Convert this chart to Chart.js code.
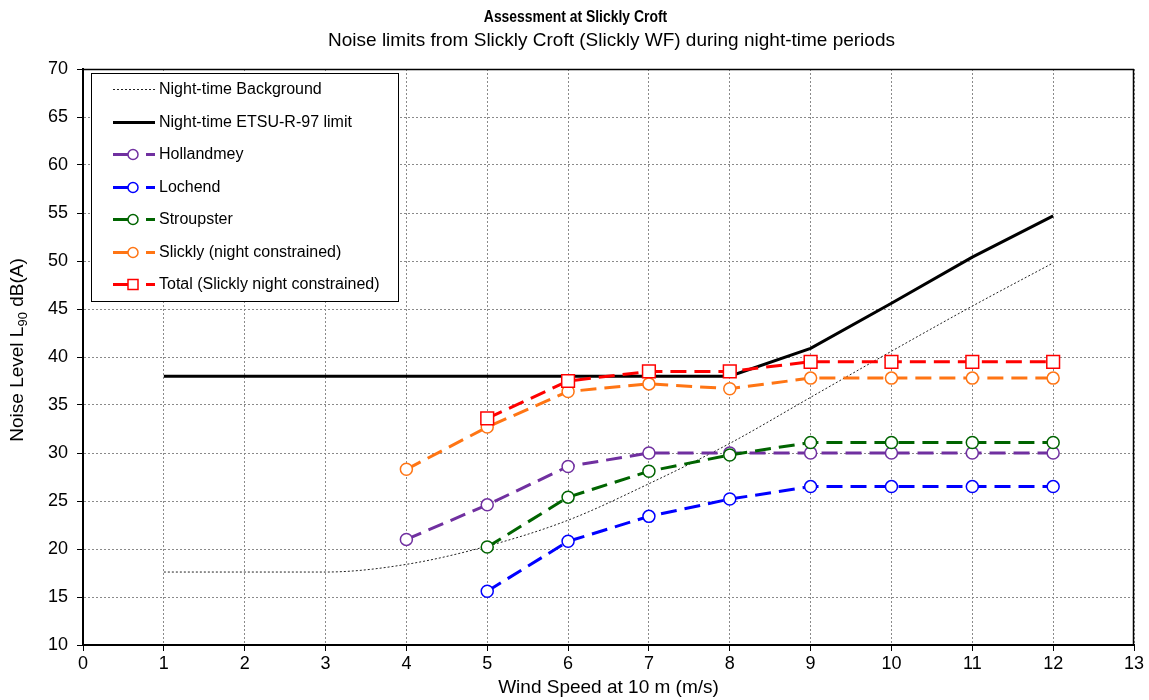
<!DOCTYPE html>
<html>
<head>
<meta charset="utf-8">
<script src="https://cdn.jsdelivr.net/npm/chart.js@4.4.0/dist/chart.umd.min.js"></script>
<style>
  html, body { margin: 0; padding: 0; background: #ffffff; }
  #wrap { width: 1149px; height: 700px; }
</style>
</head>
<body>
<div id="wrap"><canvas id="c" width="1149" height="700"></canvas></div>
<script>
// Wind speed at 10 m (m/s)
const windSpeed = [1, 2, 3, 4, 5, 6, 7, 8, 9, 10, 11, 12];

// Noise levels, L90 dB(A)
const nightBackground = [17.6, 17.6, 17.6, 18.4, 20.3, 23.0, 26.8, 31.0, 35.8, 40.6, 45.3, 49.8];
const nightLimit      = [38.0, 38.0, 38.0, 38.0, 38.0, 38.0, 38.0, 38.0, 40.9, 45.6, 50.4, 54.7];
const hollandmey      = [null, null, null, 21.0, 24.6, 28.6, 30.0, 30.0, 30.0, 30.0, 30.0, 30.0];
const lochend         = [null, null, null, null, 15.6, 20.8, 23.4, 25.2, 26.5, 26.5, 26.5, 26.5];
const stroupster      = [null, null, null, null, 20.2, 25.4, 28.1, 29.8, 31.1, 31.1, 31.1, 31.1];
const slickly         = [null, null, null, 28.3, 32.7, 36.4, 37.2, 36.7, 37.8, 37.8, 37.8, 37.8];
const totalSlickly    = [null, null, null, null, 33.6, 37.5, 38.5, 38.5, 39.5, 39.5, 39.5, 39.5];

// Axis ranges
const xRange = { min: 0, max: 13, step: 1 };
const yRange = { min: 10, max: 70, step: 5 };

const TITLE = 'Assessment at Slickly Croft';
const SUBTITLE = 'Noise limits from Slickly Croft (Slickly WF) during night-time periods';

const FONT = "'Liberation Sans', Arial, Helvetica, sans-serif";
Chart.defaults.font.family = FONT;
Chart.defaults.color = '#000000';

function toPoints(values) {
  const pts = [];
  values.forEach((v, i) => { if (v !== null) pts.push({ x: windSpeed[i], y: v }); });
  return pts;
}

function markerSeries(label, values, color, style, radius) {
  return {
    label: label,
    data: toPoints(values),
    borderColor: color,
    borderWidth: 3,
    borderDash: [16, 8],
    pointStyle: style,
    pointRadius: radius,
    pointBorderWidth: 1.5,
    pointBorderColor: color,
    pointBackgroundColor: '#ffffff',
    tension: 0,
    fill: false
  };
}

const datasets = [
  {
    label: 'Night-time Background',
    data: toPoints(nightBackground),
    borderColor: '#222222',
    borderWidth: 1,
    borderDash: [2, 2],
    pointRadius: 0,
    cubicInterpolationMode: 'monotone',
    fill: false
  },
  {
    label: 'Night-time ETSU-R-97 limit',
    data: toPoints(nightLimit),
    borderColor: '#000000',
    borderWidth: 3,
    pointRadius: 0,
    tension: 0,
    fill: false
  },
  markerSeries('Hollandmey', hollandmey, '#7030A0', 'circle', 6),
  markerSeries('Lochend', lochend, '#0000FF', 'circle', 6),
  markerSeries('Stroupster', stroupster, '#006400', 'circle', 6),
  markerSeries('Slickly (night constrained)', slickly, '#FF7514', 'circle', 6),
  markerSeries('Total (Slickly night constrained)', totalSlickly, '#FF0000', 'rect', 9)
];
// Draw order: the series listed last sit on top
datasets.forEach((d, i) => { d.order = datasets.length - i; });

// Closes the plot frame on the top and right sides
const frame = {
  id: 'frame',
  beforeDatasetsDraw(chart) {
    const { ctx, chartArea: a } = chart;
    ctx.save();
    ctx.strokeStyle = '#000000';
    ctx.lineWidth = 1.5;
    ctx.beginPath();
    ctx.moveTo(a.left, a.top + 0.5);
    ctx.lineTo(a.right, a.top + 0.5);
    ctx.moveTo(a.right - 0.5, a.top);
    ctx.lineTo(a.right - 0.5, a.bottom);
    ctx.stroke();
    ctx.restore();
  }
};

// Bold condensed title over the page, subtitle centred over the plot area
const headings = {
  id: 'headings',
  afterDraw(chart) {
    const { ctx, chartArea: a } = chart;
    ctx.save();
    ctx.fillStyle = '#000000';
    ctx.textAlign = 'center';
    ctx.textBaseline = 'middle';
    ctx.save();
    ctx.translate(chart.width / 2 + 1, 17.5);
    ctx.scale(0.87, 1);
    ctx.font = 'bold 16px ' + FONT;
    ctx.fillText(TITLE, 0, 0);
    ctx.restore();
    ctx.font = '19px ' + FONT;
    ctx.fillText(SUBTITLE, (a.left + a.right) / 2 + 3, 41);
    ctx.restore();
  }
};

// Vertical axis title with subscripted "90"
const yTitle = {
  id: 'yTitle',
  afterDraw(chart) {
    const { ctx } = chart;
    const parts = [
      { t: 'Noise Level L', size: 19, dy: 0 },
      { t: '90', size: 13, dy: 5 },
      { t: ' dB(A)', size: 19, dy: 0 }
    ];
    ctx.save();
    let total = 0;
    parts.forEach(p => { ctx.font = p.size + 'px ' + FONT; p.w = ctx.measureText(p.t).width; total += p.w; });
    ctx.translate(18, 350);
    ctx.rotate(-Math.PI / 2);
    ctx.fillStyle = '#000000';
    ctx.textBaseline = 'middle';
    ctx.textAlign = 'left';
    let x = -total / 2;
    parts.forEach(p => { ctx.font = p.size + 'px ' + FONT; ctx.fillText(p.t, x, p.dy); x += p.w; });
    ctx.restore();
  }
};

// Boxed legend inside the plot area
const boxLegend = {
  id: 'boxLegend',
  afterDraw(chart) {
    const { ctx, chartArea: a } = chart;
    const left = a.left + 8, top = a.top + 4, w = 307, h = 228;
    ctx.save();
    ctx.fillStyle = '#ffffff';
    ctx.fillRect(left, top, w, h);
    ctx.strokeStyle = '#000000';
    ctx.lineWidth = 1;
    ctx.strokeRect(left + 0.5, top + 0.5, w, h);
    const x0 = left + 22, x1 = left + 64, textX = left + 68;
    chart.data.datasets.forEach((d, i) => {
      const y = Math.round(top + 16 + i * 32.5) + 0.5;
      ctx.save();
      ctx.strokeStyle = d.borderColor;
      ctx.lineWidth = d.borderWidth;
      if (d.pointRadius > 0) {
        const mx = left + 42;
        ctx.beginPath();
        ctx.moveTo(x0, y); ctx.lineTo(mx, y);
        ctx.moveTo(left + 55, y); ctx.lineTo(x1, y);
        ctx.stroke();
        const r = 5;
        ctx.lineWidth = d.pointBorderWidth;
        ctx.fillStyle = d.pointBackgroundColor;
        ctx.beginPath();
        if (d.pointStyle === 'rect') {
          ctx.rect(mx - r, y - r, 2 * r, 2 * r);
        } else {
          ctx.arc(mx, y, r, 0, Math.PI * 2);
        }
        ctx.fill();
        ctx.stroke();
      } else {
        ctx.setLineDash(d.borderDash || []);
        ctx.beginPath();
        ctx.moveTo(x0, y); ctx.lineTo(x1, y);
        ctx.stroke();
      }
      ctx.restore();
      ctx.fillStyle = '#000000';
      ctx.font = '16px ' + FONT;
      ctx.textBaseline = 'middle';
      ctx.fillText(d.label, textX, y);
    });
    ctx.restore();
  }
};

new Chart(document.getElementById('c'), {
  type: 'line',
  data: { datasets: datasets },
  options: {
    responsive: false,
    animation: false,
    devicePixelRatio: 1,
    // top padding holds the title and subtitle lines drawn by the headings plugin
    layout: { padding: { left: 0, right: 15, top: 69, bottom: 0 } },
    plugins: {
      legend: { display: false },
      tooltip: { enabled: false },
      title: { display: false },
      subtitle: { display: false }
    },
    scales: {
      x: {
        type: 'linear',
        min: xRange.min,
        max: xRange.max,
        afterFit(scale) { scale.height = 55; },
        ticks: { stepSize: xRange.step, font: { size: 18 }, color: '#000000', padding: 2 },
        grid: {
          color: '#8a8a8a', lineWidth: 1,
          drawTicks: true, tickLength: 6, tickColor: '#000000', tickWidth: 1, tickBorderDash: []
        },
        border: { display: true, color: '#000000', width: 2, dash: [2, 2] },
        title: {
          display: true,
          text: 'Wind Speed at 10 m (m/s)',
          font: { size: 19 },
          color: '#000000',
          padding: { top: 0, bottom: 1 }
        }
      },
      y: {
        type: 'linear',
        min: yRange.min,
        max: yRange.max,
        afterFit(scale) { scale.width = 83; },
        ticks: { stepSize: yRange.step, font: { size: 18 }, color: '#000000', padding: 9 },
        grid: {
          color: '#8a8a8a', lineWidth: 1,
          drawTicks: true, tickLength: 6, tickColor: '#000000', tickWidth: 1, tickBorderDash: []
        },
        border: { display: true, color: '#000000', width: 2, dash: [2, 2] }
      }
    }
  },
  plugins: [frame, headings, yTitle, boxLegend]
});
</script>
</body>
</html>
